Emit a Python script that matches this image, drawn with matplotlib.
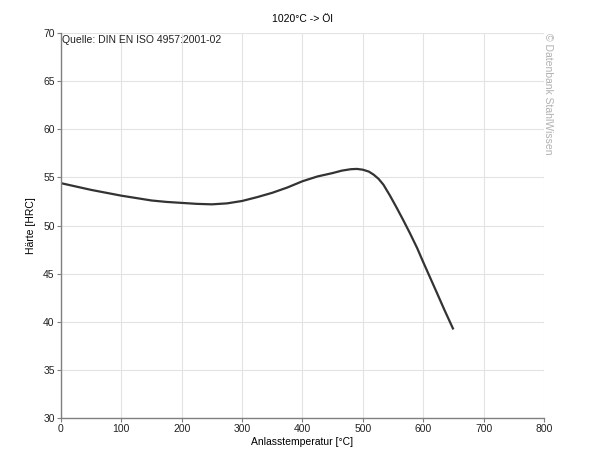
import matplotlib
matplotlib.use("Agg")
import matplotlib.pyplot as plt

plt.rcParams['font.family'] = ['Liberation Sans', 'DejaVu Sans']

temperature = [0, 25, 50, 75, 100, 125, 150, 175, 200, 225, 250, 275, 300, 325, 350, 375,
               400, 425, 450, 465, 480, 490, 500, 510, 518, 526, 534, 545, 556, 567, 578,
               590, 600, 611, 622, 635, 650]
hardness = [54.4, 54.05, 53.7, 53.4, 53.1, 52.85, 52.6, 52.45, 52.35, 52.25, 52.2, 52.3, 52.55,
            52.95, 53.4, 53.95, 54.6, 55.1, 55.45, 55.7, 55.85, 55.88, 55.8, 55.6, 55.28, 54.85,
            54.25, 53.1, 51.85, 50.55, 49.2, 47.65, 46.2, 44.65, 43.1, 41.25, 39.2]

xticks = [0, 100, 200, 300, 400, 500, 600, 700, 800]
yticks = [30, 35, 40, 45, 50, 55, 60, 65, 70]

fig = plt.figure(figsize=(6.05, 4.67), dpi=100)
ax = fig.add_axes([0.1008, 0.1049, 0.7983, 0.8244])

ax.plot(temperature, hardness, color='#333333', linewidth=1.6, solid_capstyle='butt',
        solid_joinstyle='round')

ax.set_xlim(0, 800)
ax.set_ylim(30, 70)
ax.set_xticks(xticks)
ax.set_yticks(yticks)
ax.grid(True, color='#e3e3e3', linewidth=0.8)
ax.set_axisbelow(True)

for s in ['top', 'right']:
    ax.spines[s].set_visible(False)
for s in ['left', 'bottom']:
    ax.spines[s].set_color('#808080')
    ax.spines[s].set_linewidth(1.0)

ax.tick_params(axis='both', labelsize=7.5, colors='#222222', length=3, width=0.8, pad=1.5)
ax.tick_params(axis='both', color='#808080')

ax.set_xlabel('Anlasstemperatur [°C]', fontsize=7.5, labelpad=2)
ax.set_ylabel('Härte [HRC]', fontsize=7.5, labelpad=5)
ax.set_title('1020°C -> Öl', fontsize=7.5, pad=8)

ax.text(0.003, 0.995, 'Quelle: DIN EN ISO 4957:2001-02', transform=ax.transAxes,
        fontsize=7.5, va='top', ha='left', color='#222222')

fig.text(0.906, 0.929, '© Datenbank StahlWissen', rotation=-90, fontsize=7.5,
         color='#b0b0b0', va='top', ha='center')

fig.savefig('out.png', dpi=100)
